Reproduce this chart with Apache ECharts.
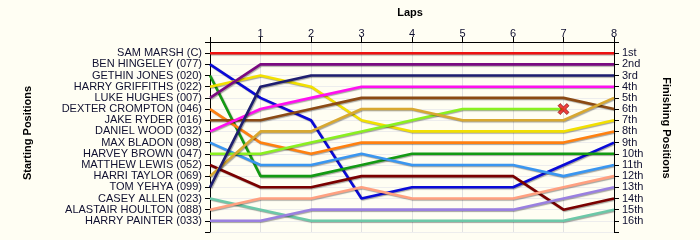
<!DOCTYPE html>
<html>
<head>
<meta charset="utf-8">
<script src="https://cdn.jsdelivr.net/npm/echarts@6/dist/echarts.min.js"></script>
<style>
html,body{margin:0;padding:0;background:#FFFEF3;}
#c{width:700px;height:240px;}
</style>
</head>
<body>
<div id="c"></div>
<script>
const laps = [0, 1, 2, 3, 4, 5, 6, 7, 8];
const lapLabels = ['', '1', '2', '3', '4', '5', '6', '7', '8'];
const drivers = ['SAM MARSH (C)', 'BEN HINGELEY (077)', 'GETHIN JONES (020)', 'HARRY GRIFFITHS (022)',
  'LUKE HUGHES (007)', 'DEXTER CROMPTON (046)', 'JAKE RYDER (016)', 'DANIEL WOOD (032)',
  'MAX BLADON (098)', 'HARVEY BROWN (047)', 'MATTHEW LEWIS (052)', 'HARRI TAYLOR (069)',
  'TOM YEHYA (099)', 'CASEY ALLEN (023)', 'ALASTAIR HOULTON (088)', 'HARRY PAINTER (033)'];
const finishLabels = ['1st', '2nd', '3rd', '4th', '5th', '6th', '7th', '8th', '9th', '10th',
  '11th', '12th', '13th', '14th', '15th', '16th'];
const colors = ['#EE1111', '#0A0AD8', '#139A13', '#F2E000', '#7A0A80', '#FF8010', '#8B4A14', '#FF10F0',
  '#3A96F0', '#8AF020', '#7A0000', '#D8A830', '#1E1E70', '#6CC8A8', '#FFA080', '#9A80E0'];
// positions per lap (lap 0..8); null = not running
const posSam = [1, 1, 1, 1, 1, 1, 1, 1, 1];
const posBen = [2, 5, 7, 14, 13, 13, 13, 11, 9];
const posGethin = [3, 12, 12, 11, 10, 10, 10, 10, 10];
const posGriffiths = [4, 3, 4, 7, 8, 8, 8, 8, 7];
const posLuke = [5, 2, 2, 2, 2, 2, 2, 2, 2];
const posDexter = [6, 9, 10, 9, 9, 9, 9, 9, 8];
const posJake = [7, 7, 6, 5, 5, 5, 5, 5, 6];
const posDaniel = [8, 6, 5, 4, 4, 4, 4, 4, 4];
const posMax = [9, 11, 11, 10, 11, 11, 11, 12, 11];
const posHarvey = [10, 10, 9, 8, 7, 6, 6, 6, null];
const posMatthew = [11, 13, 13, 12, 12, 12, 12, 15, 14];
const posHarri = [12, 8, 8, 6, 6, 7, 7, 7, 5];
const posTom = [13, 4, 3, 3, 3, 3, 3, 3, 3];
const posCasey = [14, 15, 16, 16, 16, 16, 16, 16, 15];
const posAlastair = [15, 14, 14, 13, 14, 14, 14, 13, 12];
const posPainter = [16, 16, 15, 15, 15, 15, 15, 14, 13];
const allPos = [posSam, posBen, posGethin, posGriffiths, posLuke, posDexter, posJake, posDaniel,
  posMax, posHarvey, posMatthew, posHarri, posTom, posCasey, posAlastair, posPainter];
// retirements: [lap, position]
const retired = [[7, 6]];

const chart = echarts.init(document.getElementById('c'), null, {renderer: 'canvas'});
const font = 'Liberation Sans, Arial, sans-serif';
const txt = '#101030';

const series = allPos.map((p, i) => ({
  type: 'line',
  name: drivers[i],
  data: laps.map((l, k) => p[k] == null ? null : [l, p[k]]).filter(d => d),
  symbol: 'none',
  silent: true,
  animation: false,
  lineStyle: {color: colors[i], width: 2.6, shadowColor: 'rgba(0,0,0,0.35)', shadowOffsetX: 1, shadowOffsetY: 1, shadowBlur: 1},
  z: 3
}));
series.push({
  type: 'scatter',
  data: retired,
  symbol: 'path://M2,0 L5,3 L8,0 L10,2 L7,5 L10,8 L8,10 L5,7 L2,10 L0,8 L3,5 L0,2 Z',
  symbolSize: 11,
  itemStyle: {color: '#EE1111', borderColor: '#700000', borderWidth: 0.8},
  z: 5,
  animation: false
});

chart.setOption({
  backgroundColor: '#FFFEF3',
  animation: false,
  grid: {left: 210, right: 86, top: 42, bottom: 8, containLabel: false},
  graphic: [
    {type: 'text', x: 410, y: 13, style: {text: 'Laps', font: 'bold 11px ' + font, fill: '#000', align: 'center', verticalAlign: 'middle'}},
    {type: 'text', x: 28, y: 133, rotation: Math.PI / 2, style: {text: 'Starting Positions', font: 'bold 11px ' + font, fill: '#000', align: 'center', verticalAlign: 'middle'}},
    {type: 'text', x: 666, y: 128, rotation: -Math.PI / 2, style: {text: 'Finishing Positions', font: 'bold 11px ' + font, fill: '#000', align: 'center', verticalAlign: 'middle'}}
  ],
  xAxis: {
    type: 'value', position: 'top', min: 0, max: 8, interval: 1,
    axisLine: {show: true, lineStyle: {color: '#000', width: 1}},
    axisTick: {show: true, length: 5, lineStyle: {color: '#000'}},
    axisLabel: {margin: 3, color: txt, fontSize: 11, fontFamily: font, formatter: v => lapLabels[v] || ''},
    splitLine: {show: true, lineStyle: {color: '#E2E2E2', width: 1}}
  },
  yAxis: [{
    type: 'value', inverse: true, min: 0, max: 17, interval: 1, position: 'left',
    axisLine: {show: true, lineStyle: {color: '#000', width: 1}},
    axisTick: {show: true, length: 5, lineStyle: {color: '#000'}},
    axisLabel: {margin: 8, color: txt, fontSize: 11, fontFamily: font, formatter: v => drivers[v - 1] || ''},
    splitLine: {show: true, lineStyle: {color: '#EDEDED', width: 1}}
  }, {
    type: 'value', inverse: true, min: 0, max: 17, interval: 1, position: 'right',
    axisLine: {show: true, lineStyle: {color: '#000', width: 1}},
    axisTick: {show: true, length: 5, lineStyle: {color: '#000'}},
    axisLabel: {margin: 8, color: txt, fontSize: 11, fontFamily: font, formatter: v => finishLabels[v - 1] || ''},
    splitLine: {show: false}
  }],
  series: series
});
</script>
</body>
</html>
